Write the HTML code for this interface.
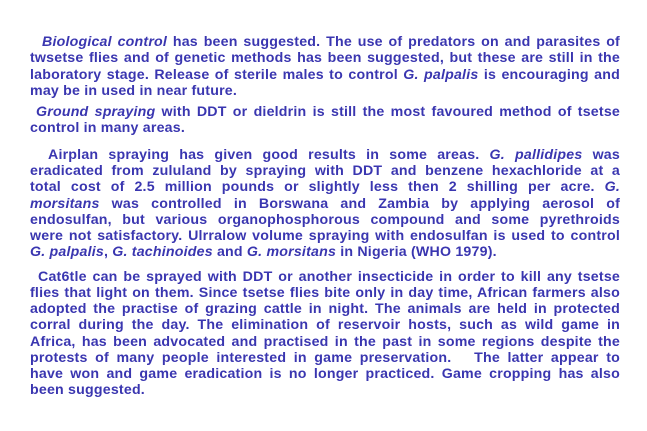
<!DOCTYPE html>
<html><head><meta charset="utf-8">
<style>
html,body{margin:0;padding:0;background:#fff;}
body{width:647px;height:431px;position:relative;overflow:hidden;font-family:"Liberation Sans",Arial,sans-serif;font-weight:bold;font-size:14.2px;letter-spacing:0.2px;color:#3a36b0;}
.l{position:absolute;left:30px;width:590px;height:16px;line-height:16px;white-space:nowrap;text-align:justify;text-align-last:justify;}
.e{text-align-last:left;}
i{font-style:italic;}
</style></head>
<body>
<div class="l" style="top:34px;padding-left:12px;width:578px"><i>Biological control</i> has been suggested. The use of predators on and parasites of</div>
<div class="l" style="top:50px">twsetse flies and of genetic methods has been suggested, but these are still in the</div>
<div class="l" style="top:67px">laboratory stage. Release of sterile males to control <i>G. palpalis</i> is encouraging and</div>
<div class="l e" style="top:83px">may be in used in near future.</div>

<div class="l" style="top:104px;padding-left:6px;width:584px"><i>Ground spraying</i> with DDT or dieldrin is still the most favoured method of tsetse</div>
<div class="l e" style="top:120px">control in many areas.</div>

<div class="l" style="top:147px;padding-left:18px;width:572px">Airplan spraying has given good results in some areas. <i>G. pallidipes</i> was</div>
<div class="l" style="top:163px">eradicated from zululand by spraying with DDT and benzene hexachloride at a</div>
<div class="l" style="top:179px">total cost of 2.5 million pounds or slightly less then 2 shilling per acre. <i>G.</i></div>
<div class="l" style="top:196px"><i>morsitans</i> was controlled in Borswana and Zambia by applying aerosol of</div>
<div class="l" style="top:212px">endosulfan, but various organophosphorous compound and some pyrethroids</div>
<div class="l" style="top:228px">were not satisfactory. Ulrralow volume spraying with endosulfan is used to control</div>
<div class="l e" style="top:244px"><i>G. palpalis</i>, <i>G. tachinoides</i> and <i>G. morsitans</i> in Nigeria (WHO 1979).</div>

<div class="l" style="top:269px;padding-left:8px;width:582px">Cat6tle can be sprayed with DDT or another insecticide in order to kill any tsetse</div>
<div class="l" style="top:285px">flies that light on them. Since tsetse flies bite only in day time, African farmers also</div>
<div class="l" style="top:301px">adopted the practise of grazing cattle in night. The animals are held in protected</div>
<div class="l" style="top:317px">corral during the day. The elimination of reservoir hosts, such as wild game in</div>
<div class="l" style="top:334px">Africa, has been advocated and practised in the past in some regions despite the</div>
<div class="l" style="top:350px">protests of many people interested in game preservation.&nbsp;&nbsp; The latter appear to</div>
<div class="l" style="top:366px">have won and game eradication is no longer practiced. Game cropping has also</div>
<div class="l e" style="top:382px">been suggested.</div>
</body></html>
